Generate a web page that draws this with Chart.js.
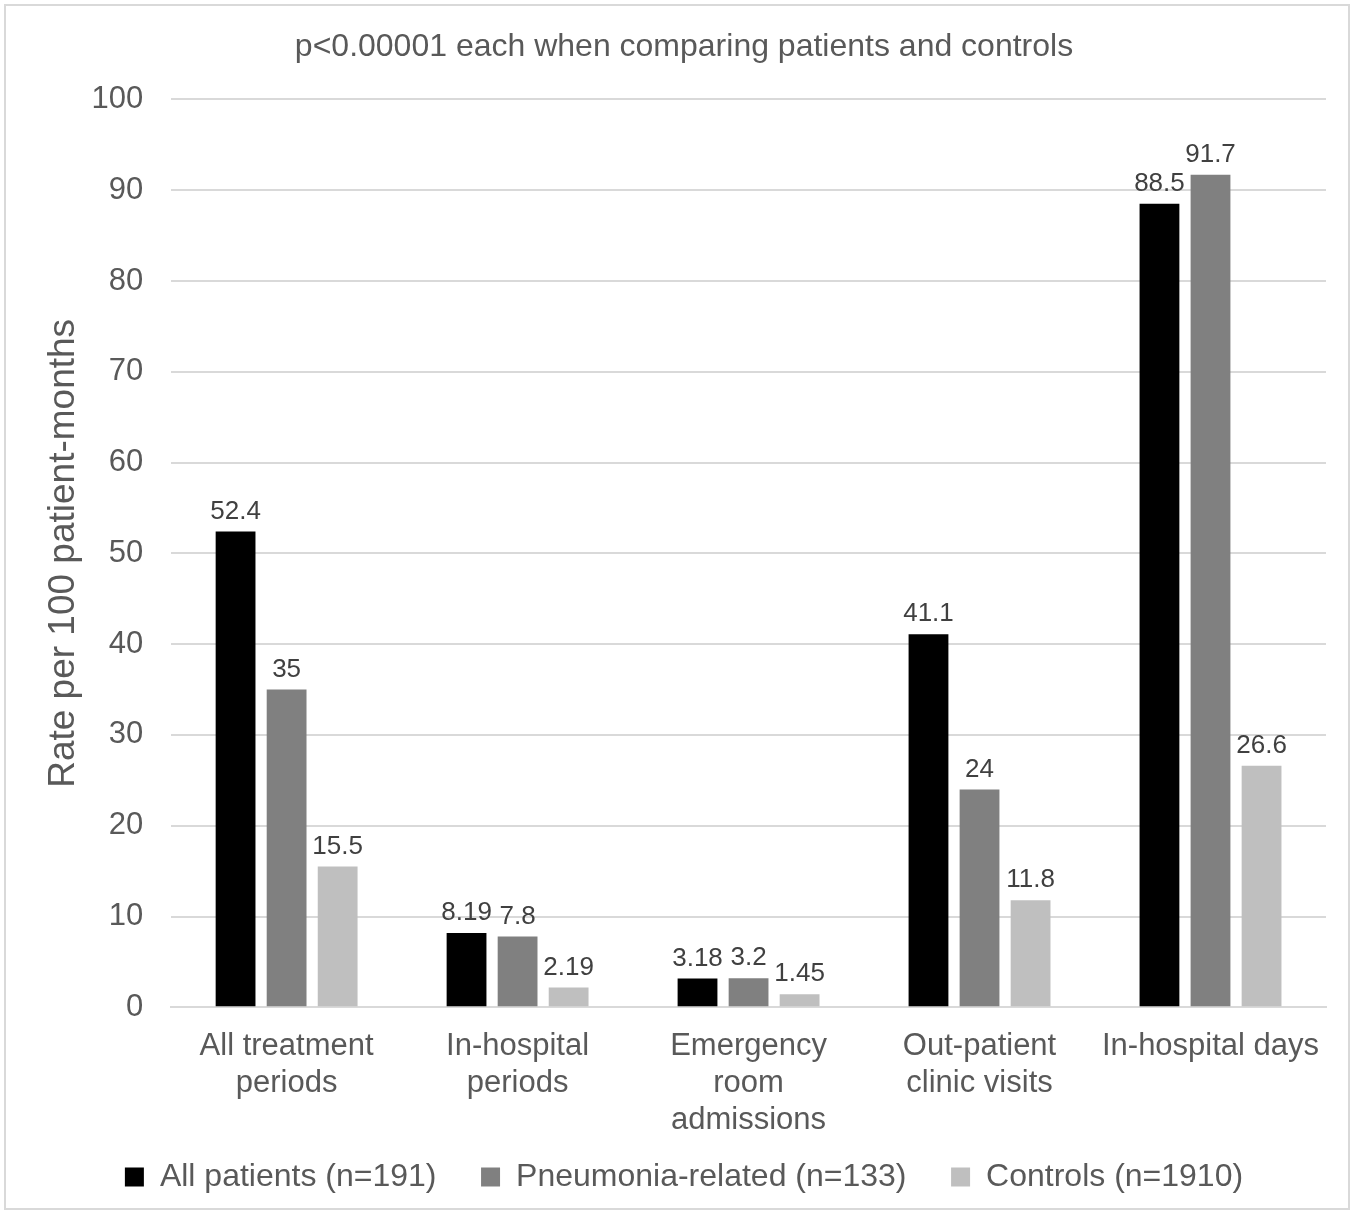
<!DOCTYPE html>
<html lang="en">
<head>
  <meta charset="UTF-8">
  <title>Healthcare use rates</title>
  <script src="https://cdn.jsdelivr.net/npm/chart.js"></script>
  <style>
    body { margin: 0; background: #fff; }
    .frame {
      position: absolute; left: 4px; top: 4px;
      width: 1346px; height: 1206px;
      border: 2px solid #d9d9d9; box-sizing: border-box;
    }
    .frame canvas { display: block; }
  </style>
</head>
<body>
  <div class="frame">
    <canvas id="chart" width="1342" height="1202"></canvas>
  </div>

  <script>
    // Data
    const categories = [
      ['All treatment', 'periods'],
      ['In-hospital', 'periods'],
      ['Emergency', 'room', 'admissions'],
      ['Out-patient', 'clinic visits'],
      'In-hospital days'
    ];
    const allPatients = [52.4, 8.19, 3.18, 41.1, 88.5];
    const pneumonia = [35, 7.8, 3.2, 24, 91.7];
    const controls = [15.5, 2.19, 1.45, 11.8, 26.6];
    const seriesNames = ['All patients (n=191)', 'Pneumonia-related (n=133)', 'Controls (n=1910)'];
    const yTicks = [0, 10, 20, 30, 40, 50, 60, 70, 80, 90, 100];

    const textColor = '#595959';
    const gridColor = '#d9d9d9';
    const font = 'Arial, "Liberation Sans", sans-serif';

    // value labels above each bar
    const barLabels = {
      id: 'barLabels',
      afterDatasetsDraw(chart) {
        const ctx = chart.ctx;
        ctx.save();
        ctx.font = '26px ' + font;
        ctx.fillStyle = '#404040';
        ctx.textAlign = 'center';
        ctx.textBaseline = 'bottom';
        chart.data.datasets.forEach((ds, i) => {
          chart.getDatasetMeta(i).data.forEach((bar, j) => {
            ctx.fillText(String(ds.data[j]), bar.x, bar.y - 7);
          });
        });
        ctx.restore();
      }
    };

    new Chart(document.getElementById('chart'), {
      type: 'bar',
      data: {
        labels: categories,
        datasets: [
          { label: seriesNames[0], data: allPatients, backgroundColor: '#000000' },
          { label: seriesNames[1], data: pneumonia, backgroundColor: '#808080' },
          { label: seriesNames[2], data: controls, backgroundColor: '#bfbfbf' }
        ]
      },
      options: {
        responsive: false,
        animation: false,
        categoryPercentage: 0.663,
        barPercentage: 0.78,
        layout: { padding: { left: 36, right: 22, top: 6, bottom: 5 } },
        plugins: {
          title: {
            display: true,
            text: 'p<0.00001 each when comparing patients and controls',
            color: textColor,
            font: { family: font, size: 32, weight: 'normal' },
            padding: { top: 16, bottom: 33 }
          },
          legend: {
            position: 'bottom',
            labels: {
              color: textColor,
              font: { family: font, size: 32 },
              boxWidth: 19,
              boxHeight: 19,
              padding: 9,
              generateLabels(chart) {
                const items = Chart.defaults.plugins.legend.labels.generateLabels(chart);
                items.forEach((it, i) => {
                  if (i < items.length - 1) it.text = it.text + '    ';
                  it.lineWidth = 0;
                });
                return items;
              }
            }
          },
          tooltip: { enabled: false }
        },
        scales: {
          x: {
            grid: { display: false },
            border: { color: gridColor, width: 2 },
            ticks: {
              color: textColor,
              font: { family: font, size: 31, lineHeight: 1.19 },
              maxRotation: 0,
              padding: 13
            }
          },
          y: {
            min: 0,
            max: 100,
            afterBuildTicks(axis) { axis.ticks = yTicks.map(v => ({ value: v })); },
            grid: { color: gridColor, lineWidth: 2, drawTicks: false },
            border: { display: false },
            ticks: {
              color: textColor,
              font: { family: font, size: 31 },
              padding: 28
            },
            title: {
              display: true,
              text: 'Rate per 100 patient-months',
              color: textColor,
              font: { family: font, size: 37 },
              padding: { top: 0, bottom: -23 }
            }
          }
        }
      },
      plugins: [barLabels]
    });
  </script>
</body>
</html>
